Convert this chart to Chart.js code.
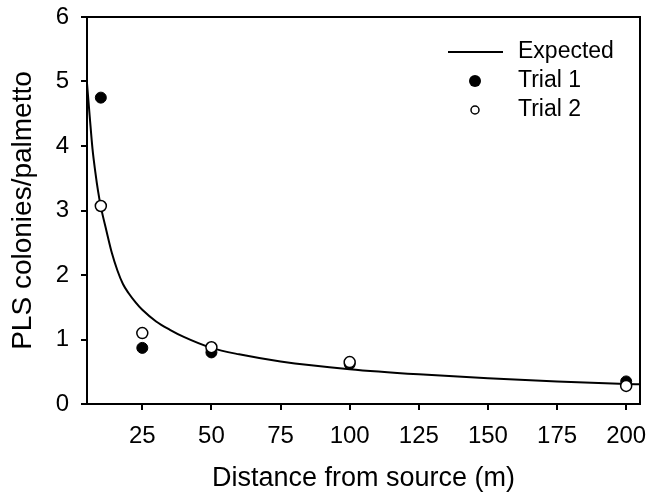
<!DOCTYPE html>
<html lang="en">
<head>
    <meta charset="UTF-8">
    <title>PLS colonies vs distance</title>
    <style>
        body { margin: 0; background: #fff; }
        #wrap { width: 658px; height: 495px; }
    </style>
</head>
<body>
    <div id="wrap"><canvas id="myChart" width="658" height="495"></canvas></div>

    <script src="https://cdn.jsdelivr.net/npm/chart.js"></script>
    <script>
        // distances (m) where the trials were sampled
        const trialX = [10, 25, 50, 100, 200];
        const trial1 = [4.75, 0.87, 0.80, 0.62, 0.35];
        const trial2 = [3.07, 1.10, 0.88, 0.65, 0.28];

        // expected curve
        const expectedX = [5, 6, 7, 8, 9, 10, 12, 14, 16, 18, 20, 22.5, 25, 30, 35, 40, 50, 60, 75, 100, 125, 150, 175, 200, 205];
        const expectedY = [4.97, 4.45, 3.95, 3.6, 3.3, 3.06, 2.69, 2.34, 2.07, 1.86, 1.72, 1.58, 1.46, 1.28, 1.15, 1.04, 0.87, 0.77, 0.66, 0.54, 0.46, 0.4, 0.35, 0.31, 0.305];

        const xTicks = [25, 50, 75, 100, 125, 150, 175, 200];
        const yTicks = [0, 1, 2, 3, 4, 5, 6];

        const font = "'Liberation Sans', Arial, sans-serif";

        function pts(xs, ys) {
            return xs.map(function(x, i) { return { x: x, y: ys[i] }; });
        }

        // box round the plot + legend in the top right corner
        const boxAndLegend = {
            id: 'boxAndLegend',
            afterDatasetsDraw: function(chart) {
                const ctx = chart.ctx;
                const a = chart.chartArea;
                ctx.save();
                ctx.strokeStyle = '#000';
                ctx.lineWidth = 2;
                ctx.beginPath();
                ctx.moveTo(a.left, a.top);
                ctx.lineTo(a.right, a.top);
                ctx.lineTo(a.right, a.bottom);
                ctx.stroke();

                const lx = 475;
                ctx.font = "23px " + font;
                ctx.fillStyle = '#000';
                ctx.textBaseline = 'middle';
                ctx.textAlign = 'left';
                // Expected
                ctx.beginPath();
                ctx.moveTo(448, 52);
                ctx.lineTo(503, 52);
                ctx.stroke();
                ctx.fillText('Expected', 518, 52);
                // Trial 1
                ctx.beginPath();
                ctx.arc(lx, 81, 6, 0, Math.PI * 2);
                ctx.fill();
                ctx.fillText('Trial 1', 518, 81);
                // Trial 2
                ctx.lineWidth = 1.5;
                ctx.beginPath();
                ctx.arc(lx, 110, 4, 0, Math.PI * 2);
                ctx.fillStyle = '#fff';
                ctx.fill();
                ctx.stroke();
                ctx.fillStyle = '#000';
                ctx.fillText('Trial 2', 518, 110);
                ctx.restore();
            }
        };

        const ctx = document.getElementById('myChart').getContext('2d');
        const myChart = new Chart(ctx, {
            type: 'scatter',
            data: {
                datasets: [{
                    label: 'Trial 2',
                    data: pts(trialX, trial2),
                    backgroundColor: '#fff',
                    borderColor: '#000',
                    borderWidth: 1.5,
                    pointRadius: 5.5,
                    order: 0
                }, {
                    label: 'Trial 1',
                    data: pts(trialX, trial1),
                    backgroundColor: '#000',
                    borderColor: '#000',
                    borderWidth: 1,
                    pointRadius: 5.5,
                    order: 1
                }, {
                    label: 'Expected',
                    type: 'line',
                    data: pts(expectedX, expectedY),
                    borderColor: '#000',
                    borderWidth: 2,
                    pointRadius: 0,
                    fill: false,
                    cubicInterpolationMode: 'monotone',
                    order: 2
                }]
            },
            options: {
                responsive: false,
                animation: false,
                layout: { padding: { top: 17, right: 18, left: 0, bottom: 0 } },
                plugins: {
                    legend: { display: false },
                    tooltip: { enabled: false }
                },
                scales: {
                    x: {
                        type: 'linear',
                        min: 5,
                        max: 205,
                        afterBuildTicks: function(scale) {
                            scale.ticks = xTicks.map(function(v) { return { value: v }; });
                        },
                        afterFit: function(scale) {
                            scale.height = 91;
                            scale.paddingLeft = 0;
                            scale.paddingRight = 0;
                        },
                        grid: {
                            drawOnChartArea: false,
                            color: '#000',
                            lineWidth: 2,
                            tickLength: 6
                        },
                        border: { color: '#000', width: 2 },
                        ticks: {
                            color: '#000',
                            font: { family: font, size: 24 },
                            padding: 12,
                            maxRotation: 0
                        },
                        title: {
                            display: true,
                            text: 'Distance from source (m)',
                            color: '#000',
                            font: { family: font, size: 27 },
                            padding: { top: 0, bottom: 0 }
                        }
                    },
                    y: {
                        min: 0,
                        max: 6,
                        afterBuildTicks: function(scale) {
                            scale.ticks = yTicks.map(function(v) { return { value: v }; });
                        },
                        afterFit: function(scale) {
                            scale.width = 87;
                            scale.paddingTop = 0;
                            scale.paddingBottom = 0;
                        },
                        grid: {
                            drawOnChartArea: false,
                            color: '#000',
                            lineWidth: 2,
                            tickLength: 6
                        },
                        border: { color: '#000', width: 2 },
                        ticks: {
                            color: '#000',
                            font: { family: font, size: 24 },
                            padding: 12
                        },
                        title: {
                            display: true,
                            text: 'PLS colonies/palmetto',
                            color: '#000',
                            font: { family: font, size: 28 },
                            padding: { top: 6, bottom: 0 }
                        }
                    }
                }
            },
            plugins: [boxAndLegend]
        });
    </script>
</body>
</html>
